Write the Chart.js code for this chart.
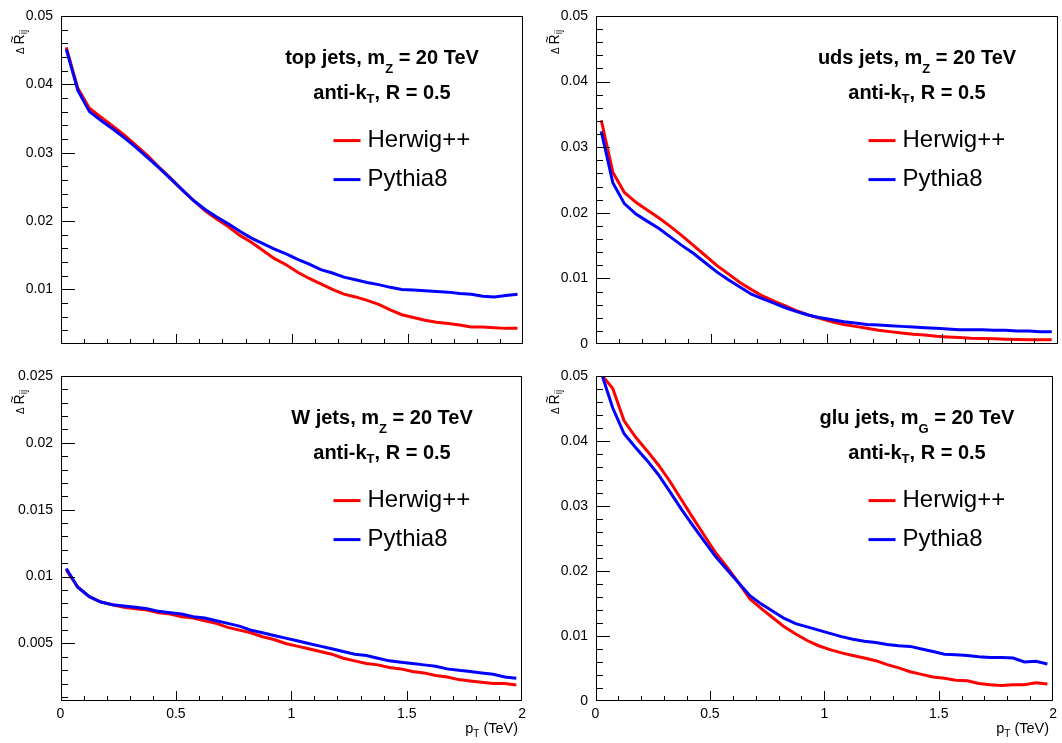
<!DOCTYPE html>
<html>
<head>
<meta charset="utf-8">
<title>Delta R_ij vs pT</title>
<script src="https://cdn.jsdelivr.net/npm/chart.js@4.4.0/dist/chart.umd.min.js"></script>
<style>
  body { margin: 0; background: #fff; }
  #wrap { position: relative; width: 1062px; height: 743px; background: #fff; }
  #wrap canvas { position: absolute; }
</style>
</head>
<body>
<div id="wrap">
  <canvas id="topChart" width="531" height="360" style="left:0;top:0"></canvas>
  <canvas id="udsChart" width="531" height="360" style="left:531px;top:0"></canvas>
  <canvas id="wChart" width="531" height="383" style="left:0;top:360px"></canvas>
  <canvas id="gluChart" width="531" height="383" style="left:531px;top:360px"></canvas>
</div>
<script>
// bin centres in pT (TeV)
const ptBins = [0.025, 0.075, 0.125, 0.175, 0.225, 0.275, 0.325, 0.375, 0.425, 0.475,
                0.525, 0.575, 0.625, 0.675, 0.725, 0.775, 0.825, 0.875, 0.925, 0.975,
                1.025, 1.075, 1.125, 1.175, 1.225, 1.275, 1.325, 1.375, 1.425, 1.475,
                1.525, 1.575, 1.625, 1.675, 1.725, 1.775, 1.825, 1.875, 1.925, 1.975];

const topHerwig = [0.0454, 0.0394, 0.0365, 0.0352, 0.0339, 0.0326, 0.0311, 0.0296, 0.0279, 0.0263,
                   0.0246, 0.0230, 0.0215, 0.0203, 0.0192, 0.0179, 0.0169, 0.0157, 0.0145, 0.0136,
                   0.0125, 0.0116, 0.0108, 0.0100, 0.0093, 0.0089, 0.0084, 0.0078, 0.0070, 0.0063,
                   0.0059, 0.0055, 0.0052, 0.0050, 0.0048, 0.0045, 0.0045, 0.0044, 0.0043, 0.0043];
const topPythia = [0.0451, 0.0391, 0.0360, 0.0347, 0.0335, 0.0322, 0.0308, 0.0293, 0.0278, 0.0262,
                   0.0246, 0.0230, 0.0217, 0.0206, 0.0196, 0.0185, 0.0175, 0.0167, 0.0159, 0.0152,
                   0.0144, 0.0137, 0.0129, 0.0124, 0.0118, 0.0114, 0.0110, 0.0107, 0.0103, 0.0100,
                   0.0099, 0.0098, 0.0097, 0.0096, 0.0094, 0.0093, 0.0090, 0.0089, 0.0091, 0.0093];

const udsHerwig = [0.0341, 0.0262, 0.0231, 0.0216, 0.0204, 0.0192, 0.0179, 0.0165, 0.0150, 0.0135,
                   0.0120, 0.0107, 0.0094, 0.0083, 0.0073, 0.0065, 0.0058, 0.0050, 0.0044, 0.0039,
                   0.0034, 0.0030, 0.0027, 0.0024, 0.0021, 0.0019, 0.0017, 0.0015, 0.0014, 0.0012,
                   0.0011, 0.0010, 0.0009, 0.00085, 0.0008, 0.00075, 0.0007, 0.00065, 0.00065, 0.00065];
const udsPythia = [0.0324, 0.0246, 0.0214, 0.0198, 0.0187, 0.0176, 0.0163, 0.0150, 0.0138, 0.0124,
                   0.0110, 0.0098, 0.0087, 0.0076, 0.0069, 0.0062, 0.0055, 0.0049, 0.0044, 0.0040,
                   0.0037, 0.0034, 0.0032, 0.0030, 0.0029, 0.0028, 0.0027, 0.0026, 0.0025, 0.0024,
                   0.0023, 0.0022, 0.0022, 0.0022, 0.0021, 0.0021, 0.0020, 0.0020, 0.0019, 0.0019];

const wHerwig = [0.0105, 0.0092, 0.0085, 0.0081, 0.0079, 0.0077, 0.0076, 0.0075, 0.0073, 0.0072,
                 0.0070, 0.0069, 0.0067, 0.0065, 0.0062, 0.0060, 0.0058, 0.0055, 0.0053, 0.0050,
                 0.0048, 0.0046, 0.0044, 0.0042, 0.0039, 0.0037, 0.0035, 0.0034, 0.0032, 0.0031,
                 0.0029, 0.0028, 0.0026, 0.0025, 0.0023, 0.0022, 0.0021, 0.0020, 0.0020, 0.0019];
const wPythia = [0.0106, 0.0092, 0.0085, 0.0081, 0.0079, 0.0078, 0.0077, 0.0076, 0.0074, 0.0073,
                 0.0072, 0.0070, 0.0069, 0.0067, 0.0065, 0.0063, 0.0060, 0.0058, 0.0056, 0.0054,
                 0.0052, 0.0050, 0.0048, 0.0046, 0.0044, 0.0042, 0.0041, 0.0039, 0.0037, 0.0036,
                 0.0035, 0.0034, 0.0033, 0.0031, 0.0030, 0.0029, 0.0028, 0.0027, 0.0025, 0.0024];

const gluHerwig = [0.0502, 0.0481, 0.0431, 0.0406, 0.0385, 0.0363, 0.0338, 0.0310, 0.0282, 0.0255,
                   0.0228, 0.0206, 0.0182, 0.0157, 0.0142, 0.0128, 0.0114, 0.0103, 0.0093, 0.0085,
                   0.0079, 0.0074, 0.0070, 0.0066, 0.0062, 0.0056, 0.0051, 0.0045, 0.0041, 0.0037,
                   0.0035, 0.0032, 0.0031, 0.0027, 0.0025, 0.0024, 0.0025, 0.0025, 0.0028, 0.0026];
const gluPythia = [0.0505, 0.0451, 0.0411, 0.0390, 0.0370, 0.0348, 0.0322, 0.0295, 0.0270, 0.0246,
                   0.0222, 0.0202, 0.0182, 0.0162, 0.0149, 0.0138, 0.0127, 0.0119, 0.0114, 0.0109,
                   0.0104, 0.0099, 0.0095, 0.0092, 0.0090, 0.0087, 0.0085, 0.0084, 0.0080, 0.0076,
                   0.0072, 0.0071, 0.0070, 0.0068, 0.0067, 0.0067, 0.0066, 0.0060, 0.0061, 0.0057];

const FONT = '"Liberation Sans", Arial, Helvetica, sans-serif';
Chart.defaults.font.family = FONT;
Chart.defaults.color = '#000';

function isMultiple(v, step) {
    const r = v / step;
    return Math.abs(r - Math.round(r)) < 1e-6;
}

function fmt(v) {
    return String(+v.toFixed(5));
}

// draw a row of text pieces (for sub-scripts), returns the pieces with their x
function drawParts(ctx, parts, x, y, align) {
    let total = 0;
    parts.forEach(p => {
        ctx.font = p.font;
        p.w = ctx.measureText(p.text).width;
        total += p.w;
    });
    let cx = align === 'center' ? x - total / 2 : align === 'right' ? x - total : x;
    parts.forEach(p => {
        ctx.font = p.font;
        ctx.fillText(p.text, cx, y + (p.dy || 0));
        p.x = cx;
        cx += p.w;
    });
    return parts;
}

// values between scale min and max that sit on a step
function stepValues(scale, step) {
    const out = [];
    const first = Math.ceil(scale.min / step - 1e-6);
    const last = Math.floor(scale.max / step + 1e-6);
    for (let k = first; k <= last; k++) out.push(+(k * step).toFixed(6));
    return out;
}

// ROOT look: frame, inward ticks, labels inside the pad
function makeFrame(cfg) {
    return {
        id: 'rootFrame',
        afterDraw(chart) {
            const ctx = chart.ctx;
            const a = chart.chartArea;
            const xs = chart.scales.x, ys = chart.scales.y;
            const L = Math.round(a.left), R = Math.round(a.right);
            const T = Math.round(a.top), B = Math.round(a.bottom);

            ctx.save();
            ctx.fillStyle = '#000';
            // frame
            ctx.fillRect(L, T, R - L, 1);
            ctx.fillRect(L, B - 1, R - L, 1);
            ctx.fillRect(L, T, 1, B - T);
            ctx.fillRect(R - 1, T, 1, B - T);
            // y ticks, pointing inwards
            stepValues(ys, cfg.yMinor).forEach(v => {
                const py = Math.round(ys.getPixelForValue(v));
                const len = isMultiple(v, cfg.yMajor) ? 14 : 7;
                ctx.fillRect(L, Math.min(py, B - 1), len, 1);
            });
            // x ticks
            stepValues(xs, 0.1).forEach(v => {
                const px = Math.round(xs.getPixelForValue(v));
                const len = isMultiple(v, 0.5) ? 10 : 5;
                ctx.fillRect(Math.min(px, R - 1), B - len, 1, len);
            });

            ctx.textAlign = 'left';
            ctx.textBaseline = 'alphabetic';
            const bold20 = 'bold 20px ' + FONT, bold13 = 'bold 13px ' + FONT;
            const cx = a.left + 321.5;
            drawParts(ctx, [
                { text: cfg.jet + ' jets, m', font: bold20 },
                { text: cfg.massSub, font: bold13, dy: 9.5 },
                { text: ' = 20 TeV', font: bold20 }
            ], cx, a.top + 47.7, 'center');
            drawParts(ctx, [
                { text: 'anti-k', font: bold20 },
                { text: 'T', font: bold13, dy: 4.5 },
                { text: ', R = 0.5', font: bold20 }
            ], cx, a.top + 82.7, 'center');

            // legend
            chart.data.datasets.forEach((ds, i) => {
                const ly = a.top + 124.7 + i * 39;
                ctx.strokeStyle = ds.borderColor;
                ctx.lineWidth = 3;
                ctx.beginPath();
                ctx.moveTo(a.left + 273, ly);
                ctx.lineTo(a.left + 300, ly);
                ctx.stroke();
                ctx.font = '24px ' + FONT;
                ctx.fillText(ds.label, a.left + 307, ly + 6.6);
            });

            // y title, rotated
            ctx.save();
            ctx.translate(a.left - 37, a.top + 14);
            ctx.rotate(-Math.PI / 2);
            const yParts = drawParts(ctx, [
                { text: '\u0394', font: '10px ' + FONT },
                { text: ' ', font: '10px ' + FONT },
                { text: 'R', font: '14px ' + FONT },
                { text: 'ij', font: '10px ' + FONT, dy: 3.5 }
            ], 0, 0, 'right');
            ctx.font = '12px ' + FONT;
            const tw = ctx.measureText('~').width;
            ctx.fillText('~', yParts[2].x + yParts[2].w / 2 - tw / 2, -7.5);
            ctx.restore();

            // x title
            if (cfg.xLabels) {
                drawParts(ctx, [
                    { text: 'p', font: '14.5px ' + FONT },
                    { text: 'T', font: '10px ' + FONT, dy: 3.7 },
                    { text: ' (TeV)', font: '14.5px ' + FONT }
                ], a.right - 4, a.bottom + 32, 'right');
            }
            ctx.restore();
        }
    };
}

function toPoints(values) {
    return ptBins.map((x, i) => ({ x: x, y: values[i] }));
}

function makePanel(canvasId, cfg) {
    const ctx = document.getElementById(canvasId).getContext('2d');
    return new Chart(ctx, {
        type: 'line',
        data: {
            datasets: [{
                label: 'Herwig++',
                data: toPoints(cfg.herwig),
                borderColor: '#ff0000',
                borderWidth: 3,
                pointRadius: 0,
                tension: 0,
                fill: false,
                clip: 0,
                order: 2
            }, {
                label: 'Pythia8',
                data: toPoints(cfg.pythia),
                borderColor: '#0000ff',
                borderWidth: 3,
                pointRadius: 0,
                tension: 0,
                fill: false,
                clip: 0,
                order: 1
            }]
        },
        options: {
            responsive: false,
            animation: false,
            events: [],
            layout: {
                autoPadding: false,
                padding: { left: 0, top: cfg.padTop, right: cfg.padRight, bottom: 0 }
            },
            plugins: {
                legend: { display: false },
                tooltip: { enabled: false }
            },
            scales: {
                x: {
                    type: 'linear',
                    min: 0,
                    max: 2,
                    grid: { display: false, drawTicks: false },
                    border: { display: false },
                    ticks: {
                        display: cfg.xLabels,
                        stepSize: 0.1,
                        autoSkip: false,
                        maxRotation: 0,
                        padding: 5,
                        font: { size: 14 },
                        callback: v => isMultiple(v, 0.5) ? fmt(v) : ''
                    },
                    afterFit: s => { s.height = cfg.xHeight; }
                },
                y: {
                    type: 'linear',
                    min: cfg.yMin,
                    max: cfg.yMax,
                    grid: { display: false, drawTicks: false },
                    border: { display: false },
                    ticks: {
                        stepSize: cfg.yMinor,
                        includeBounds: false,
                        autoSkip: false,
                        padding: 7.5,
                        font: { size: 14 },
                        callback: v => isMultiple(v, cfg.yMajor) ? fmt(v) : ''
                    },
                    afterFit: s => { s.width = cfg.yWidth; }
                }
            }
        },
        plugins: [makeFrame(cfg)]
    });
}

makePanel('topChart', {
    jet: 'top', massSub: 'Z', herwig: topHerwig, pythia: topPythia,
    yMin: 0.002, yMax: 0.05, yMajor: 0.01, yMinor: 0.002, xLabels: false,
    padTop: 13, padRight: 7.7, yWidth: 60.5, xHeight: 15.5
});
makePanel('udsChart', {
    jet: 'uds', massSub: 'Z', herwig: udsHerwig, pythia: udsPythia,
    yMin: 0, yMax: 0.05, yMajor: 0.01, yMinor: 0.002, xLabels: false,
    padTop: 13, padRight: 4.5, yWidth: 64.5, xHeight: 15
});
makePanel('wChart', {
    jet: 'W', massSub: 'Z', herwig: wHerwig, pythia: wPythia,
    yMin: 0.0007, yMax: 0.025, yMajor: 0.005, yMinor: 0.001, xLabels: true,
    padTop: 8, padRight: 7.7, yWidth: 60.5, xHeight: 42
});
makePanel('gluChart', {
    jet: 'glu', massSub: 'G', herwig: gluHerwig, pythia: gluPythia,
    yMin: 0, yMax: 0.05, yMajor: 0.01, yMinor: 0.002, xLabels: true,
    padTop: 9, padRight: 4.5, yWidth: 64.5, xHeight: 42
});
</script>
</body>
</html>
